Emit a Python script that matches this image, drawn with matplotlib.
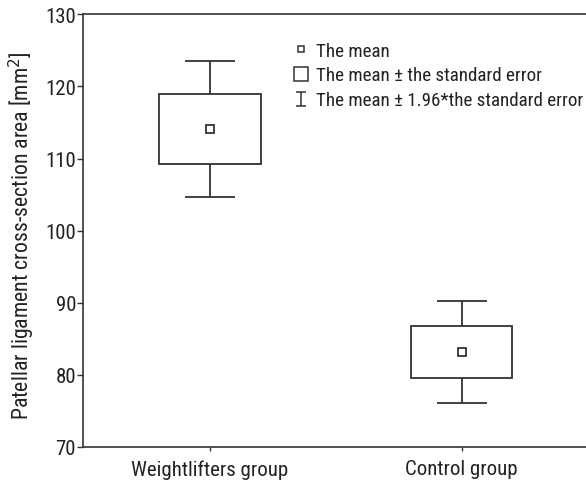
import matplotlib.pyplot as plt
from matplotlib.lines import Line2D
from matplotlib.path import Path

plt.rcParams['font.family'] = ['Roboto Condensed', 'Liberation Sans Narrow', 'Roboto', 'DejaVu Sans']

# dados
grupos = ['Weightlifters group', 'Control group']
media = [114.1, 83.2]
ep_inf = [109.3, 79.6]      # media - erro padrao
ep_sup = [118.9, 86.8]      # media + erro padrao
ic_inf = [104.7, 76.1]      # media - 1.96*erro padrao
ic_sup = [123.5, 90.2]      # media + 1.96*erro padrao

cor = '#333333'
cor_txt = '#222222'

fig = plt.figure(figsize=(5.86, 4.85), dpi=100)
ax = fig.add_axes([0.1416, 0.0763, 0.8584, 0.892])

x = list(range(len(grupos)))

# bigodes (1.96*EP)
ax.errorbar(x, media,
            yerr=[[m - a for m, a in zip(media, ic_inf)], [b - m for m, b in zip(media, ic_sup)]],
            fmt='none', ecolor=cor, elinewidth=1.3, capsize=18, capthick=1.3, zorder=1)

# caixas (EP)
ax.bar(x, [s - i for s, i in zip(ep_sup, ep_inf)], bottom=ep_inf, width=0.405,
       facecolor='white', edgecolor=cor, linewidth=1.3, zorder=2)

# media
ax.plot(x, media, ls='none', marker='s', ms=5.2, mfc='white', mec=cor, mew=1.3, zorder=3)

ax.set_xlim(-0.505, 1.495)
ax.set_ylim(70, 130)
ax.set_yticks([70, 80, 90, 100, 110, 120, 130])
ax.set_xticks(x)
ax.set_xticklabels(grupos, fontsize=15, color=cor_txt)
ax.tick_params(axis='y', labelsize=15, labelcolor=cor_txt, length=4, width=1, color=cor, pad=1)
ax.tick_params(axis='x', length=3, width=1, color=cor, pad=6)
ax.set_ylabel('Patellar ligament cross-section area [mm$^2$]', fontsize=15.7, color=cor_txt)
ax.yaxis.set_label_coords(-0.091, 0.49)

ax.spines['right'].set_visible(False)
for s in ['left', 'top', 'bottom']:
    ax.spines[s].set_color(cor)
    ax.spines[s].set_linewidth(1.2)

# legenda
ibeam = Path([(-0.7, 1), (0.7, 1), (0, 1), (0, -1), (-0.7, -1), (0.7, -1)],
             [Path.MOVETO, Path.LINETO, Path.MOVETO, Path.LINETO, Path.MOVETO, Path.LINETO])
handles = [
    Line2D([], [], ls='none', marker='s', ms=4.8, mfc='white', mec=cor, mew=1.1),
    Line2D([], [], ls='none', marker='s', ms=10.5, mfc='white', mec=cor, mew=1.1),
    Line2D([], [], ls='none', marker=ibeam, ms=10, mec=cor, mew=1.1),
]
labels = ['The mean', 'The mean \u00b1 the standard error', 'The mean \u00b1 1.96*the standard error']
ax.legend(handles, labels, loc='upper left', bbox_to_anchor=(0.415, 0.937), frameon=False,
          fontsize=13.7, handlelength=1.0, handletextpad=0.25, labelspacing=0.36,
          borderpad=0, borderaxespad=0, labelcolor=cor_txt)

fig.savefig('out.png', dpi=100)
